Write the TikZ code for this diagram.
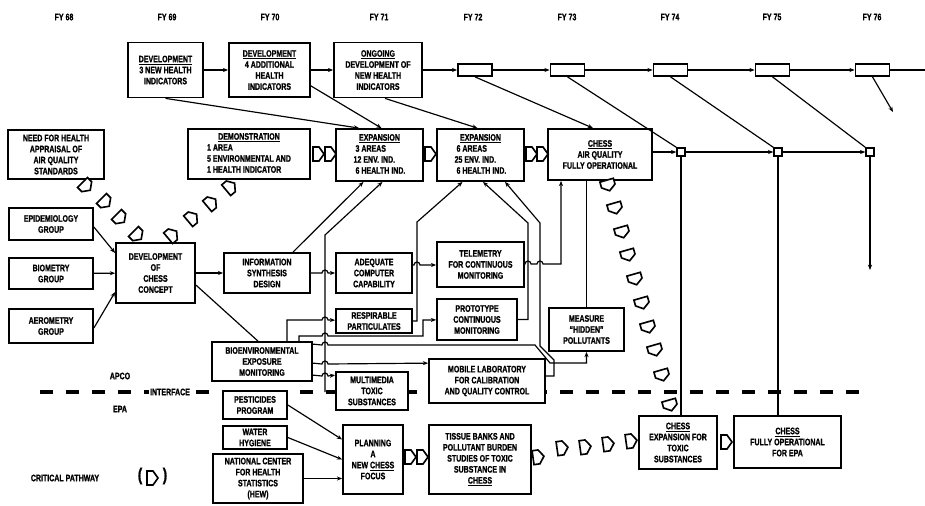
\documentclass[tikz,border=0pt]{standalone}
\usepackage{fontspec}
\setmainfont{Liberation Sans}[FakeStretch=0.75, FakeBold=1]
\usepackage{tikz}
\usetikzlibrary{arrows.meta, positioning, calc}

\tikzset{
  box/.style={draw, line width=1.5pt, fill=white, align=center, inner sep=0pt},
  sz/.style 2 args={minimum width=#1*0.3mm, minimum height=#2*0.3mm},
  yrbox/.style={draw, line width=1.5pt, fill=white, inner sep=0pt, minimum width=34*0.3mm, minimum height=12*0.3mm},
  knot/.style={draw, line width=1.2pt, fill=white, inner sep=0pt, minimum size=8*0.3mm},
  cpw/.pic={\draw[line width=1.4pt, fill=white] (-5,-7) -- (1,-7) -- (6,0) -- (1,7) -- (-5,7) -- cycle;}
}

\begin{document}
\begin{tikzpicture}[x=0.3mm, y=-0.3mm, line width=1pt, >={Stealth[length=4.5pt,width=3.5pt]},
  every node/.style={font=\fontsize{8}{9.4}\selectfont\bfseries}]
  \useasboundingbox (0,0) rectangle (925,505);

  % APCO / EPA interface
  \draw[line width=3.5pt, dash pattern=on 3.9mm off 3.9mm] (40,392) -- (867,392);
  \node[fill=white, inner sep=1pt] (intf) at (170,392) {INTERFACE};
  \node (apco) at (120,376) {APCO};
  \node (epa) at (120,409) {EPA};

  % fiscal years
  \foreach \yr/\x in {68/64, 69/167, 70/270, 71/379, 72/473, 73/567, 74/670, 75/772, 76/872}
    \node (fy\yr) at (\x,17) {FY \yr};

  % top row
  \node[box, sz={75}{55}] (dev1) at (165.5,70) {\underline{DEVELOPMENT}\\3 NEW HEALTH\\INDICATORS};
  \node[box, sz={81}{54}] (dev2) at (269.5,70) {\underline{DEVELOPMENT}\\4 ADDITIONAL\\HEALTH\\INDICATORS};
  \node[box, sz={88}{55}] (ongo) at (378,70) {\underline{ONGOING}\\DEVELOPMENT OF\\NEW HEALTH\\INDICATORS};
  \node[yrbox] (y72) at (475,70) {};
  \node[yrbox] (y73) at (567.5,70) {};
  \node[yrbox] (y74) at (670.5,70) {};
  \node[yrbox] (y75) at (772.5,70) {};
  \node[yrbox] (y76) at (872.5,70) {};
  \coordinate (edge) at (925,70);
  \coordinate (y76tip) at (893,112);

  % second row
  \node[box, sz={96}{49}] (need) at (56,154.5) {NEED FOR HEALTH\\APPRAISAL OF\\AIR QUALITY\\STANDARDS};
  \node[box, sz={122}{50}] (demo) at (249,154) {\begin{tabular}{@{}l@{}}\multicolumn{1}{@{}c@{}}{\underline{DEMONSTRATION}}\\1 AREA\\5 ENVIRONMENTAL AND\\1 HEALTH INDICATOR\end{tabular}};
  \node[box, sz={87}{52}] (exp1) at (379.5,155) {\begin{tabular}{@{}l@{}}\multicolumn{1}{@{}c@{}}{\underline{EXPANSION}}\\\ 3 AREAS\\12 ENV. IND.\\\ 6 HEALTH IND.\end{tabular}};
  \node[box, sz={87}{52}] (exp2) at (480.5,155) {\begin{tabular}{@{}l@{}}\multicolumn{1}{@{}c@{}}{\underline{EXPANSION}}\\\ 6 AREAS\\25 ENV. IND.\\\ 6 HEALTH IND.\end{tabular}};
  \node[box, sz={104}{51}] (chess) at (600,154.5) {\underline{CHESS}\\AIR QUALITY\\FULLY OPERATIONAL};
  \node[knot] (k1) at (681,152) {};
  \node[knot] (k2) at (778,152) {};
  \node[knot] (k3) at (870,152) {};
  \coordinate (k3tip) at (870,270);

  % groups and concept
  \node[box, sz={84}{32}] (epid) at (51,224) {EPIDEMIOLOGY\\GROUP};
  \node[box, sz={84}{31}] (biom) at (51,273.5) {BIOMETRY\\GROUP};
  \node[box, sz={84}{34}] (aero) at (51,326) {AEROMETRY\\GROUP};
  \node[box, sz={79}{60}] (concept) at (155.5,273) {DEVELOPMENT\\OF\\CHESS\\CONCEPT};
  \node[box, sz={86}{40}] (info) at (267,273) {INFORMATION\\SYNTHESIS\\DESIGN};
  \node[box, sz={76}{40}] (adeq) at (374,273) {ADEQUATE\\COMPUTER\\CAPABILITY};
  \node[box, sz={87}{45}] (tele) at (480.5,264.5) {TELEMETRY\\FOR CONTINUOUS\\MONITORING};
  \node[box, sz={76}{24}] (resp) at (374,321) {RESPIRABLE\\PARTICULATES};
  \node[box, sz={80}{41}] (proto) at (477,319.5) {PROTOTYPE\\CONTINUOUS\\MONITORING};
  \node[box, sz={75}{43}] (meas) at (586.5,329.5) {MEASURE\\``HIDDEN''\\POLLUTANTS};
  \node[box, sz={100}{39}] (bio) at (262,361.5) {BIOENVIRONMENTAL\\EXPOSURE\\MONITORING};
  \node[box, sz={72}{38}] (multi) at (372,391) {MULTIMEDIA\\TOXIC\\SUBSTANCES};
  \node[box, sz={116}{44}] (mobile) at (487,381) {MOBILE LABORATORY\\FOR CALIBRATION\\AND QUALITY CONTROL};
  \coordinate (busbot) at (325,392);

  % EPA side
  \node[box, sz={64}{28}] (pest) at (255,405) {PESTICIDES\\PROGRAM};
  \node[box, sz={64}{23}] (water) at (255,437.5) {WATER\\HYGIENE};
  \node[box, sz={90}{49}] (nchs) at (258,478.5) {NATIONAL CENTER\\FOR HEALTH\\STATISTICS\\(HEW)};
  \node[box, sz={60}{69}] (plan) at (373,459.5) {PLANNING\\A\\NEW \underline{CHESS}\\FOCUS};
  \node[box, sz={102}{69}] (tissue) at (480,459.5) {TISSUE BANKS AND\\POLLUTANT BURDEN\\STUDIES OF TOXIC\\SUBSTANCE IN\\\underline{CHESS}};
  \node[box, sz={78}{53}] (cexp) at (678,442.5) {\underline{CHESS}\\EXPANSION FOR\\TOXIC\\SUBSTANCES};
  \node[box, sz={107}{52}] (cepa) at (787.5,442) {\underline{CHESS}\\FULLY OPERATIONAL\\FOR EPA};

  % legend
  \node (cpl) at (65,478) {CRITICAL PATHWAY};
  \node[font=\fontsize{15}{15}\selectfont\bfseries] (lpar) at (140,476) {(};
  \node[font=\fontsize{15}{15}\selectfont\bfseries] (rpar) at (165,476) {)};
  \pic at (152,478) {cpw};

  % time line
  \draw[->] (dev1) -- (dev2);
  \draw[->] (dev2) -- (ongo);
  \draw[->] (ongo) -- (y72);
  \draw[->] (y72) -- (y73);
  \draw[->] (y73) -- (y74);
  \draw[->] (y74) -- (y75);
  \draw[->] (y75) -- (y76);
  \draw (y76) -- (edge);
  \draw[->] (y76.south) -- (y76tip);
  \draw[->] (dev1.south) -- ($(exp1.north west)+(24,0)$);
  \draw[->] ($(dev2.south east)+(0,-12)$) -- ($(exp1.north)+(2,0)$);
  \draw[->] ($(ongo.south)+(7,0)$) -- ($(exp2.north)+(-3,0)$);
  \draw[->] (y72.south) -- ($(chess.north)+(-7,0)$);
  \draw (y73.south) -- (k1.north west);
  \draw (y74.south) -- (k2.north west);
  \draw (y75.south) -- (k3.north west);
  \draw[->] (chess.east |- k1) -- (k1);
  \draw[->] (k1) -- (k2);
  \draw[->] (k2) -- (k3);
  \draw (k1.south) -- (k1.south |- cexp.north);
  \draw (k2.south) -- (k2.south |- cepa.north);
  \draw[->] (k3.south) -- (k3tip);

  % concept development
  \draw[->] ($(epid.east)+(0,3)$) -- ($(concept.west)+(0,-20)$);
  \draw[->] (biom) -- (concept);
  \draw[->] ($(aero.east)+(0,2)$) -- ($(concept.west)+(0,19)$);
  \draw[->] (concept) -- (info);
  \draw ($(concept.east)+(0,12)$) -- ($(bio.north)+(-4,0)$);
  \draw[->] ($(info.north)+(26,0)$) -- ($(exp1.south)+(-16,0)$);
  \draw[->] (busbot) -- (325,235) -- ($(exp1.south)+(3,0)$);
  \draw[->] (info) -- (322,273) arc[start angle=180, end angle=360, radius=3] -- (adeq);

  % monitoring branches
  \draw[->] ($(bio.north)+(25,0)$) -- (287,320) -- (322,320) arc[start angle=180, end angle=360, radius=3] -- (resp);
  \draw[->] ($(bio.north)+(37,0)$) -- (299,336) -- (322,336) arc[start angle=180, end angle=360, radius=3]
    -- (423,336) -- (423,320) -- (proto);
  \draw[->] ($(bio.north east)+(0,3)$) -- (322,345) arc[start angle=180, end angle=360, radius=3]
    -- (535,345) -- (550,363) -- (586.5,363) -- (meas);
  \draw[->] ($(bio.north east)+(0,22)$) -- (322,364) arc[start angle=180, end angle=360, radius=3]
    -- ($(mobile.north west)+(0,5)$);
  \draw[->] ($(bio.north east)+(0,34)$) -- (322,376) arc[start angle=180, end angle=360, radius=3]
    -- ($(multi.north west)+(0,4)$);
  \draw[->] (resp.east) -- (417,321) -- (417,222) -- ($(exp2.south)+(-18,0)$);
  \draw[->] ($(adeq.east)+(0,-8)$) -- (414,265) arc[start angle=180, end angle=360, radius=3] -- ($(tele.west)+(0,0.5)$);
  \draw[->] ($(tele.east)+(0,-0.5)$) -- (525,264) arc[start angle=180, end angle=360, radius=3]
    -- (537,264) arc[start angle=180, end angle=360, radius=3] -- (561,264) -- ($(chess.south)+(-39,0)$);
  \draw[->] (proto.east) -- (528,319.5) -- (528,223) -- ($(exp2.south)+(2.5,0)$);
  \draw[->] ($(mobile.east)+(0,-5)$) -- (554,376) -- (554,360) -- (540,346) -- (540,223) -- ($(exp2.south)+(24.5,0)$);
  \draw (meas.north) -- (meas.north |- chess.south);

  % EPA inputs
  \draw[->] (pest.east) -- ($(plan.west)+(0,-20)$);
  \draw[->] (water.east) -- (plan.west);
  \draw[->] (nchs.east) -- (plan.west |- nchs.east);

  % critical pathway
  \foreach \x/\y in {86/186, 105/202, 120/218, 137/235}
    \pic[rotate=-45] at (\x,\y) {cpw};
  \foreach \x/\y in {172/235, 192/218, 211/203, 230/187}
    \pic[rotate=40] at (\x,\y) {cpw};
  \foreach \x in {318, 330, 430, 531, 542}
    \pic at (\x,154) {cpw};
  \foreach \x in {410, 422}
    \pic at (\x,457) {cpw};
  \foreach \x/\y in {608/185, 615/208, 622/232, 628/255, 635/279, 642/303, 648/327, 655/350, 662/375, 670/405}
    \pic[rotate=-74] at (\x,\y) {cpw};
  \foreach \x/\y in {538/457, 562/448, 585/447, 608/444, 631/441}
    \pic[rotate=8] at (\x,\y) {cpw};
  \pic at (726,442) {cpw};
\end{tikzpicture}
\end{document}
